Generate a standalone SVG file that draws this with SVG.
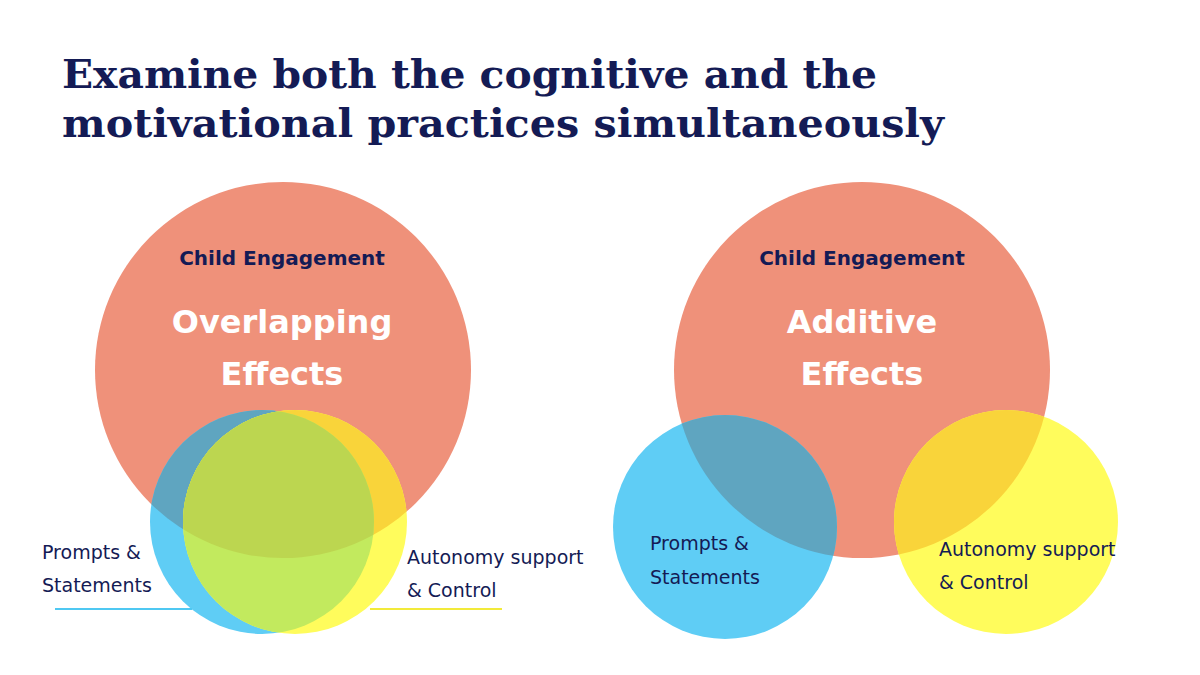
<svg xmlns="http://www.w3.org/2000/svg" width="1200" height="675" viewBox="0 0 1200 675">
<style>
.title{font-family:"DejaVu Serif","Liberation Serif",serif;font-weight:bold;font-size:40px;fill:#141b55}
.big{fill:#ef917a}
.blue{fill:#5fcdf5}
.yel{fill:#fffc5c}
.bs{fill:#5fa5c0}
.ys{fill:#f9d43a}
.by{fill:#c2ea5e}
.bys{fill:#bcd650}
.lab{font-family:"DejaVu Sans",sans-serif;font-size:19px;fill:#141b55}
.head{font-family:"DejaVu Sans",sans-serif;font-size:20px;font-weight:bold;fill:#141b55;text-anchor:middle}
.eff{font-family:"DejaVu Sans",sans-serif;font-size:32px;font-weight:bold;fill:#fff;text-anchor:middle}
</style>
<defs>
<clipPath id="cLS"><circle cx="283" cy="370" r="188"/></clipPath>
<clipPath id="cLB"><circle cx="262" cy="522" r="112"/></clipPath>
<clipPath id="cRS"><circle cx="862" cy="370" r="188"/></clipPath>
</defs>
<rect width="1200" height="675" fill="#fff"/>
<text class="title" x="62" y="88" textLength="815" lengthAdjust="spacingAndGlyphs">Examine both the cognitive and the</text>
<text class="title" x="62" y="137" textLength="882" lengthAdjust="spacingAndGlyphs">motivational practices simultaneously</text>
<g id="left-engagement"><circle class="big" cx="283" cy="370" r="188"/></g>
<g id="left-prompts"><circle class="blue" cx="262" cy="522" r="112"/>
<circle class="bs" cx="262" cy="522" r="112" clip-path="url(#cLS)"/></g>
<g id="left-autonomy"><circle class="yel" cx="295" cy="522" r="112"/>
<circle class="ys" cx="295" cy="522" r="112" clip-path="url(#cLS)"/>
<circle class="by" cx="295" cy="522" r="112" clip-path="url(#cLB)"/>
<g clip-path="url(#cLS)"><circle class="bys" cx="295" cy="522" r="112" clip-path="url(#cLB)"/></g></g>
<g id="left-texts">
<text class="head" x="282" y="265">Child Engagement</text>
<text class="eff" x="282" y="333">Overlapping</text><text class="eff" x="282" y="385">Effects</text></g>
<g id="connectors">
<line x1="55" y1="609" x2="192" y2="609" stroke="#4fc8f2" stroke-width="2"/>
<line x1="370" y1="609" x2="502" y2="609" stroke="#f2ea3a" stroke-width="2"/>
</g>
<text class="lab" x="42" y="559">Prompts &amp;</text><text class="lab" x="42" y="592">Statements</text>
<text class="lab" x="407" y="564">Autonomy support</text><text class="lab" x="407" y="597">&amp; Control</text>
<g id="right-engagement"><circle class="big" cx="862" cy="370" r="188"/>
<text class="head" x="862" y="265">Child Engagement</text>
<text class="eff" x="862" y="333">Additive</text><text class="eff" x="862" y="385">Effects</text></g>
<g id="right-prompts"><circle class="blue" cx="725" cy="527" r="112"/>
<circle class="bs" cx="725" cy="527" r="112" clip-path="url(#cRS)"/>
<text class="lab" x="650" y="550">Prompts &amp;</text><text class="lab" x="650" y="584">Statements</text></g>
<g id="right-autonomy"><circle class="yel" cx="1006" cy="522" r="112"/>
<circle class="ys" cx="1006" cy="522" r="112" clip-path="url(#cRS)"/>
<text class="lab" x="939" y="556">Autonomy support</text><text class="lab" x="939" y="589">&amp; Control</text></g>
</svg>
